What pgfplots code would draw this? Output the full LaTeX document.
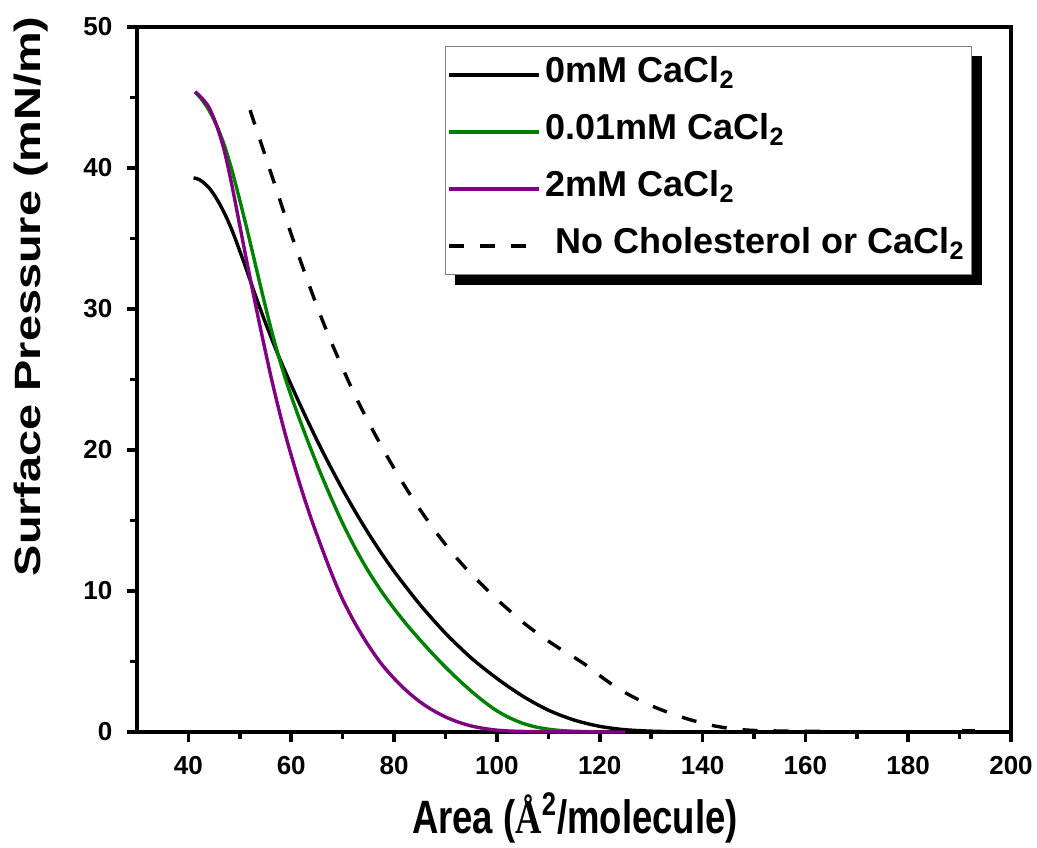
\documentclass[border=0pt]{standalone}
\usepackage{fontspec}
\setmainfont{Liberation Sans}
\newfontfamily\xlabfont[FakeStretch=0.78]{Liberation Sans}
\newfontfamily\ylabfont[FakeStretch=1.28]{Liberation Sans}
\newfontfamily\serifA[FakeStretch=0.78]{Liberation Serif}
\usepackage{pgfplots}
\pgfplotsset{compat=1.18}
\usetikzlibrary{backgrounds}

\definecolor{cgreen}{RGB}{0,128,0}
\definecolor{cpurple}{RGB}{128,0,128}

\begin{document}
\begin{tikzpicture}
\begin{axis}[
    scale only axis,
    width=437pt,
    height=352.5pt,
    xmin=30, xmax=200,
    ymin=0, ymax=50,
    xtick={40,60,...,200},
    ytick={0,10,...,50},
    minor x tick num=1,
    minor y tick num=1,
    xtick pos=left,
    ytick pos=left,
    tick align=outside,
    major tick length=5pt,
    minor tick length=3.5pt,
    line width=2pt,
    tick style={line width=1.8pt, black},
    /pgf/number format/assume math mode=true,
    ticklabel style={font=\fontsize{13}{15}\selectfont\bfseries},
    xticklabel style={yshift=-3pt},
    yticklabel style={xshift=-3pt},
    xlabel={\xlabfont\bfseries Area ({\serifA\bfseries Å}\textsuperscript{2}/molecule)},
    ylabel={\ylabfont\bfseries Surface Pressure (mN/m)},
    xlabel style={font=\fontsize{23.4}{26}\selectfont, at={(axis description cs:0.501,-0.122)}, anchor=center},
    ylabel style={font=\fontsize{18.3}{21}\selectfont, at={(axis description cs:-0.121,0.618)}, anchor=center},
    clip=false,
    legend cell align=left,
    legend style={
        name=leg,
        at={(rel axis cs:0.352,0.973)}, anchor=north west,
        draw=gray, line width=0.5pt, fill=white,
        font=\fontsize{18}{21}\selectfont\bfseries,
        inner xsep=1pt, inner ysep=0pt, row sep=0pt,
        nodes={inner xsep=2.5pt, inner ysep=0pt, text height=18pt, text depth=10.5pt},
    },
    legend image code/.code={\draw[line width=1.7pt, #1] (0pt,0pt) -- (45pt,0pt);},
    every axis plot/.append style={line width=1.7pt},
]
\addplot[black, smooth, tension=0.5] coordinates {
(41.0,39.3) (42.0,39.2) (43.0,38.95) (44.0,38.6) (45.0,38.1) (46.0,37.5)
(47.0,36.8) (48.0,36.0) (49.0,35.1) (50.0,34.1) (51.0,33.1) (52.0,32.05)
(53.0,31.0) (55.0,29.0) (57.5,26.7) (60.0,24.6) (62.5,22.6) (65.0,20.7)
(67.5,18.9) (70.0,17.2) (72.5,15.6) (75.0,14.1) (77.5,12.7) (80.0,11.4)
(82.5,10.2) (85.0,9.05) (87.5,8.0) (90.0,7.0) (92.5,6.1) (95.0,5.25)
(97.5,4.5) (100.0,3.8) (102.5,3.15) (105.0,2.55) (107.5,2.02) (110.0,1.55)
(112.5,1.17) (115.0,0.85) (117.5,0.6) (120.0,0.4) (122.5,0.26) (125.0,0.16)
(127.5,0.1) (130.0,0.06) (133.0,0.03)
};
\addlegendentry{0mM CaCl\textsubscript{2}}
\addplot[cgreen, smooth, tension=0.5] coordinates {
(41.3,45.4) (42.5,44.9) (44.0,44.1) (45.5,43.0) (47.0,41.6) (48.5,39.8)
(50.0,37.7) (51.5,35.5) (53.0,33.2) (54.5,30.9) (56.0,28.7) (57.5,26.7)
(59.0,24.9) (60.5,23.3) (62.0,21.8) (64.0,19.9) (66.0,18.1) (68.0,16.4)
(70.0,14.8) (72.5,13.0) (75.0,11.4) (77.5,10.0) (80.0,8.75) (82.5,7.6)
(85.0,6.55) (87.5,5.55) (90.0,4.6) (92.5,3.72) (95.0,2.9) (97.5,2.15)
(100.0,1.5) (102.5,1.0) (105.0,0.62) (107.5,0.36) (110.0,0.2)
(112.5,0.1) (115.0,0.05) (118.0,0.02)
};
\addlegendentry{0.01mM CaCl\textsubscript{2}}
\addplot[cpurple, smooth, tension=0.5] coordinates {
(41.3,45.4) (42.5,45.0) (44.0,44.3) (45.5,43.0) (47.0,41.2) (48.5,38.7)
(50.0,35.9) (51.5,33.1) (53.0,30.4) (54.5,27.8) (56.0,25.3) (57.5,23.0)
(59.0,20.9) (60.5,19.0) (62.0,17.2) (64.0,15.0) (66.0,13.0) (68.0,11.1)
(70.0,9.4) (72.5,7.65) (75.0,6.15) (77.5,4.85) (80.0,3.8) (82.5,2.9)
(85.0,2.15) (87.5,1.55) (90.0,1.07) (92.5,0.7) (95.0,0.43) (97.5,0.25)
(100.0,0.13) (103.0,0.06) (108.0,0.02) (115.0,0.01) (125.0,0.0)
};
\addlegendentry{2mM CaCl\textsubscript{2}}
\addplot[black, dash pattern=on 7.5pt off 8pt, smooth, tension=0.5] coordinates {
(52.0,44.1) (54.0,41.9) (56.0,39.7) (58.0,37.5) (60.0,35.3) (62.5,32.7)
(65.0,30.2) (67.5,27.9) (70.0,25.8) (72.5,23.8) (75.0,22.0) (77.5,20.3)
(80.0,18.7) (82.5,17.2) (85.0,15.8) (87.5,14.5) (90.0,13.3) (92.5,12.2)
(95.0,11.2) (97.5,10.3) (100.0,9.4) (102.5,8.6) (105.0,7.8) (107.5,7.1)
(110.0,6.45) (112.5,5.85) (115.0,5.3) (117.5,4.7) (120.0,4.0) (122.5,3.35)
(125.0,2.78) (127.5,2.3) (130.0,1.87) (132.5,1.5) (135.0,1.17) (137.5,0.88)
(140.0,0.63) (142.5,0.42) (145.0,0.27) (147.5,0.17) (150.0,0.11)
(155.0,0.07) (163.0,0.05)
};
\addlegendentry{\hspace{5pt}No Cholesterol or CaCl\textsubscript{2}}
\addplot[black, forget plot] coordinates {(190.5,0.08) (193.0,0.08)};
\coordinate (bl) at (rel axis cs:0,0);
\coordinate (tr) at (rel axis cs:1,1);
\end{axis}
\begin{scope}[on background layer]
\fill[black] ([shift={(5pt,-5pt)}]leg.south west) rectangle ([shift={(5pt,-5pt)}]leg.north east);
\end{scope}
\pgfresetboundingbox
\path ([shift={(-68.5pt,-58pt)}]bl) rectangle ([shift={(13pt,13.5pt)}]tr);
\end{tikzpicture}
\end{document}
